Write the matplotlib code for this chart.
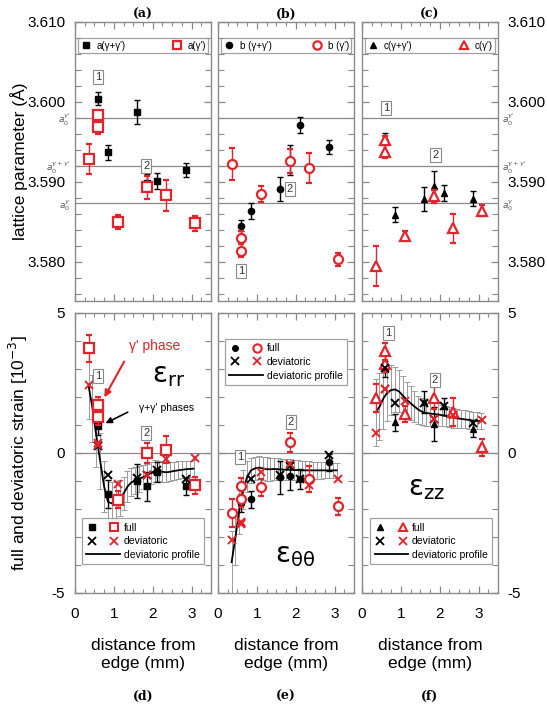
import matplotlib
matplotlib.use('Agg')
import matplotlib.pyplot as plt
from matplotlib.lines import Line2D
from matplotlib.legend_handler import HandlerTuple
from matplotlib.ticker import MultipleLocator, FormatStrFormatter

plt.rcParams['font.family'] = ['Liberation Sans', 'DejaVu Sans']
plt.rcParams['mathtext.fontset'] = 'dejavusans'
plt.rcParams['axes.unicode_minus'] = False

RED = '#e3242b'
GRAY = '#8a8a8a'

# measurement positions (mm from edge)
x_gp = [0.6, 0.85, 1.6, 1.85, 2.1, 2.85]          # gamma + gamma'
x_g = [0.35, 0.6, 0.6, 1.1, 1.85, 2.35, 3.1]      # gamma'

# lattice parameters (Angstrom)
a_gp = [3.6004, 3.5937, 3.5987, 3.5899, 3.5901, 3.5915]
a_gp_err = [0.0008, 0.0009, 0.0015, 0.0011, 0.0010, 0.0009]
a_g = [3.5929, 3.5984, 3.5969, 3.5850, 3.5893, 3.5883, 3.5848]
a_g_err = [0.0019, 0.0005, 0.0009, 0.0009, 0.0014, 0.0019, 0.0009]

b_gp = [3.5845, 3.5863, 3.5891, 3.5927, 3.5971, 3.5944]
b_gp_err = [0.0007, 0.0010, 0.0015, 0.0019, 0.0010, 0.0009]
b_g = [3.5922, 3.5830, 3.5814, 3.5885, 3.5926, 3.5917, 3.5803]
b_g_err = [0.0020, 0.0008, 0.0008, 0.0010, 0.0015, 0.0019, 0.0008]

c_gp = [3.5955, 3.5859, 3.5878, 3.5895, 3.5886, 3.5879]
c_gp_err = [0.0006, 0.0009, 0.0015, 0.0019, 0.0010, 0.0009]
c_g = [3.5795, 3.5952, 3.5938, 3.5832, 3.5882, 3.5842, 3.5864]
c_g_err = [0.0025, 0.0006, 0.0008, 0.0006, 0.0008, 0.0018, 0.0007]

# stress-free reference lattice parameters
a0_vals = [3.5980, 3.5920, 3.5874]
a0_labels = [r"$a_0^{\gamma'}$", r"$a_0^{\gamma+\gamma'}$", r"$a_0^{\gamma}$"]

# strains [1e-3]
rr_full_gp = [0.95, -1.47, -0.99, -1.19, -0.67, -1.19]
rr_full_gp_err = [0.3, 0.5, 0.6, 0.52, 0.35, 0.3]
rr_dev_gp = [0.24, -0.78, -0.90, -0.80, -0.62, -0.93]
rr_full_g = [3.74, 1.70, 1.29, -1.67, 0.00, 0.12, -1.15]
rr_full_g_err = [0.49, 0.3, 0.3, 0.3, 0.35, 0.47, 0.3]
rr_dev_g = [2.44, 0.36, 0.30, -1.11, -0.79, -0.20, -0.19]

tt_full_gp = [-1.79, -1.65, -0.87, -0.81, -0.93, -0.33]
tt_full_gp_err = [0.3, 0.3, 0.6, 0.5, 0.35, 0.3]
tt_dev_gp = [-2.50, -0.93, -0.80, -0.45, -0.93, -0.07]
tt_full_g = [-2.15, -1.19, -1.63, -1.23, 0.38, -0.93, -1.91]
tt_full_g_err = [0.5, 0.3, 0.3, 0.3, 0.33, 0.45, 0.3]
tt_dev_g = [-3.10, -2.54, -2.45, -0.67, -0.39, -1.15, -0.93]

zz_full_gp = [3.00, 1.10, 1.82, 1.04, 1.67, 0.86]
zz_full_gp_err = [0.3, 0.3, 0.4, 0.6, 0.3, 0.3]
zz_dev_gp = [3.05, 1.77, 1.80, 1.20, 1.67, 1.07]
zz_full_g = [1.96, 3.63, 3.19, 1.39, 1.96, 1.48, 0.20]
zz_full_g_err = [0.5, 0.3, 0.3, 0.3, 0.4, 0.5, 0.3]
zz_dev_g = [0.72, 2.27, 2.30, 1.87, 1.21, 1.35, 1.18]

# deviatoric profiles
x_prof = [0.35, 0.45, 0.55, 0.65, 0.75, 0.85, 0.95, 1.05, 1.15, 1.25, 1.35, 1.45, 1.55, 1.65,
          1.75, 1.85, 1.95, 2.05, 2.15, 2.25, 2.35, 2.45, 2.55, 2.65, 2.75, 2.85, 2.95, 3.05]
rr_prof = [2.40, 1.60, 0.60, -0.30, -1.20, -1.75, -1.80, -1.70, -1.60, -1.45, -1.20, -1.05, -0.98, -0.92,
           -0.86, -0.80, -0.72, -0.64, -0.64, -0.67, -0.69, -0.67, -0.64, -0.62, -0.60, -0.58, -0.57, -0.56]
tt_prof = [-3.90, -3.00, -2.00, -1.30, -0.85, -0.62, -0.55, -0.52, -0.55, -0.58, -0.58, -0.57, -0.58, -0.59,
           -0.60, -0.60, -0.61, -0.61, -0.62, -0.62, -0.62, -0.62, -0.62, -0.62, -0.62, -0.62, -0.62, -0.62]
zz_prof = [1.45, 1.65, 1.95, 2.15, 2.25, 2.27, 2.20, 2.05, 1.90, 1.78, 1.66, 1.55, 1.47, 1.43,
           1.41, 1.39, 1.38, 1.35, 1.32, 1.29, 1.26, 1.24, 1.22, 1.20, 1.18, 1.16, 1.15, 1.14]
prof_err = [1.20, 1.20, 1.10, 1.00, 0.90, 0.80, 0.75, 0.70, 0.65, 0.60, 0.55, 0.50, 0.48, 0.46,
            0.44, 0.42, 0.40, 0.38, 0.37, 0.36, 0.35, 0.34, 0.33, 0.32, 0.31, 0.30, 0.30, 0.30]
tt_prof_err = [1.10, 1.00, 0.90, 0.70, 0.55, 0.45, 0.42, 0.42, 0.42, 0.42, 0.41, 0.40, 0.40, 0.39,
               0.38, 0.37, 0.36, 0.35, 0.34, 0.33, 0.32, 0.31, 0.30, 0.30, 0.29, 0.28, 0.28, 0.28]

W, H = 547, 708
fig = plt.figure(figsize=(W / 100, H / 100), dpi=100)

lefts = [75, 218, 362]
pw = 136


def frac_box(left, top, bottom):
    return [left / W, 1 - bottom / H, pw / W, (bottom - top) / H]


def style_axes(ax, col):
    for s in ax.spines.values():
        s.set_color(GRAY)
        s.set_linewidth(1.0)
    ax.set_xlim(0, 3.5)
    ax.xaxis.set_major_locator(MultipleLocator(1))
    ax.xaxis.set_minor_locator(MultipleLocator(0.25))
    ax.tick_params(which='both', direction='in', top=True, right=True, color=GRAY, labelsize=11)
    ax.tick_params(which='major', length=5, width=0.9)
    ax.tick_params(which='minor', length=3, width=0.8)
    ax.tick_params(axis='y', which='minor', length=4)
    ax.tick_params(axis='y', labelleft=(col == 0), labelright=(col == 2), pad=7)


def box_label(ax, x, y, s):
    ax.text(x, y, s, ha='center', va='center', fontsize=8, color='#333333', zorder=6,
            bbox=dict(boxstyle='square,pad=0.18', fc='white', ec=GRAY, lw=0.8))


# ---------------- top row: lattice parameters ----------------
top_sets = [(a_gp, a_gp_err, a_g, a_g_err, 's', 'a'),
            (b_gp, b_gp_err, b_g, b_g_err, 'o', 'b'),
            (c_gp, c_gp_err, c_g, c_g_err, '^', 'c')]
top_box_labels = [[(0.6, 3.6031, '1'), (1.83, 3.5920, '2')],
                  [(0.6, 3.5788, '1'), (1.85, 3.5891, '2')],
                  [(0.62, 3.5992, '1'), (1.89, 3.5934, '2')]]

for col, (ygp, egp, yg, eg, mk, letter) in enumerate(top_sets):
    ax = fig.add_axes(frac_box(lefts[col], 22, 301))
    style_axes(ax, col)
    ax.set_ylim(3.5751, 3.610)
    ax.yaxis.set_major_locator(MultipleLocator(0.010))
    ax.yaxis.set_minor_locator(MultipleLocator(0.002))
    ax.yaxis.set_major_formatter(FormatStrFormatter('%.3f'))
    ax.tick_params(axis='x', labelbottom=False)
    for v in a0_vals:
        ax.axhline(v, color=GRAY, lw=0.9, zorder=1)
    ms_k = 4.5 if mk != '^' else 5
    ax.errorbar(x_gp, ygp, yerr=egp, fmt=mk, color='k', ms=ms_k, capsize=2.5, elinewidth=1,
                capthick=1, zorder=3)
    ax.errorbar(x_g, yg, yerr=eg, fmt=mk, mfc='white', mec=RED, mew=1.6, ecolor=RED, ms=6.5,
                capsize=2.5, elinewidth=1, capthick=1, zorder=4)
    for bx, by, bs in top_box_labels[col]:
        box_label(ax, bx, by, bs)
    if letter == 'b':
        lab1, lab2 = "b (γ+γ')", "b (γ')"
    else:
        lab1, lab2 = letter + "(γ+γ')", letter + "(γ')"
    h1 = Line2D([], [], ls='none', marker=mk, color='k', ms=ms_k)
    h2 = Line2D([], [], ls='none', marker=mk, mfc='white', mec=RED, mew=1.6, ms=6)
    leg = ax.legend([h1, h2], [lab1, lab2], ncol=2, loc='lower left', mode='expand',
                    bbox_to_anchor=(0.02, 0.889, 0.96, 0.057), borderaxespad=0, fontsize=7,
                    frameon=True, fancybox=False, handlelength=1.2, handletextpad=0.5,
                    borderpad=0.25, columnspacing=0.8)
    leg.get_frame().set_edgecolor(GRAY)
    leg.get_frame().set_linewidth(0.9)
    ax.set_title('(' + letter + ')', fontsize=9, fontweight='bold', family='DejaVu Serif', pad=3)
    if col == 0:
        for v, lab in zip(a0_vals, a0_labels):
            ax.text(-0.03, v - 0.0003, lab, transform=ax.get_yaxis_transform(), ha='right',
                    va='center', fontsize=6.5, color='#555555')
    if col == 2:
        for v, lab in zip(a0_vals, a0_labels):
            ax.text(1.03, v - 0.0003, lab, transform=ax.get_yaxis_transform(), ha='left',
                    va='center', fontsize=6.5, color='#555555')

# ---------------- bottom row: strains ----------------
bot_sets = [(rr_full_gp, rr_full_gp_err, rr_dev_gp, rr_full_g, rr_full_g_err, rr_dev_g, rr_prof, prof_err, 's', 'd'),
            (tt_full_gp, tt_full_gp_err, tt_dev_gp, tt_full_g, tt_full_g_err, tt_dev_g, tt_prof, tt_prof_err, 'o', 'e'),
            (zz_full_gp, zz_full_gp_err, zz_dev_gp, zz_full_g, zz_full_g_err, zz_dev_g, zz_prof, prof_err, '^', 'f')]
bot_box_labels = [[(0.6, 2.76, '1'), (1.83, 0.71, '2')],
                  [(0.57, -0.15, '1'), (1.87, 1.12, '2')],
                  [(0.68, 4.3, '1'), (1.88, 2.6, '2')]]
eps_text = [(2.4, 2.75, r'$\mathrm{\varepsilon_{rr}}$'), (1.97, -3.68, r'$\mathrm{\varepsilon_{\theta\theta}}$'),
            (1.67, -1.3, r'$\mathrm{\varepsilon_{zz}}$')]
leg_pos = [('lower center', (0.5, 0.085)), ('upper center', (0.5, 0.925)), ('lower right', (0.995, 0.085))]

for col, (fgp, fgpe, dgp, fg, fge, dg, prof, perr, mk, letter) in enumerate(bot_sets):
    ax = fig.add_axes(frac_box(lefts[col], 313, 593))
    style_axes(ax, col)
    ax.set_ylim(-5, 5)
    ax.yaxis.set_major_locator(MultipleLocator(5))
    ax.yaxis.set_minor_locator(MultipleLocator(1))
    ax.tick_params(axis='x', pad=10)
    ax.axhline(0, color=GRAY, lw=0.9, zorder=1)
    ax.errorbar(x_prof, prof, yerr=perr, fmt='none', ecolor='#9a9a9a', elinewidth=0.7,
                capsize=2.2, capthick=0.7, zorder=1.5)
    ax.plot(x_prof, prof, color='k', lw=1.3, zorder=2)
    ms_k = 4.5 if mk != '^' else 5
    ax.errorbar(x_gp, fgp, yerr=fgpe, fmt=mk, color='k', ms=ms_k, capsize=2.5, elinewidth=1,
                capthick=1, zorder=3)
    ax.errorbar(x_g, fg, yerr=fge, fmt=mk, mfc='white', mec=RED, mew=1.6, ecolor=RED, ms=6.5,
                capsize=2.5, elinewidth=1, capthick=1, zorder=4)
    ax.plot(x_gp, dgp, ls='none', marker='x', color='k', ms=6, mew=1.4, zorder=5)
    ax.plot(x_g, dg, ls='none', marker='x', color=RED, ms=6, mew=1.4, zorder=5)
    for bx, by, bs in bot_box_labels[col]:
        box_label(ax, bx, by, bs)
    ex, ey, es = eps_text[col]
    ax.text(ex, ey, es, ha='center', va='center', fontsize=20)

    hf = (Line2D([], [], ls='none', marker=mk, color='k', ms=4),
          Line2D([], [], ls='none', marker=mk, mfc='white', mec=RED, mew=1.5, ms=6))
    hd = (Line2D([], [], ls='none', marker='x', color='k', ms=5.5, mew=1.3),
          Line2D([], [], ls='none', marker='x', color=RED, ms=5.5, mew=1.3))
    hp = Line2D([], [], color='k', lw=1.3)
    loc, anchor = leg_pos[col]
    leg = ax.legend([hf, hd, hp], ['full', 'deviatoric', 'deviatoric profile'], loc=loc,
                    bbox_to_anchor=anchor, fontsize=7.5, frameon=True, fancybox=False,
                    handler_map={tuple: HandlerTuple(ndivide=None, pad=1.2)}, handlelength=3.2,
                    handletextpad=0.4, borderpad=0.4, labelspacing=0.35)
    leg.get_frame().set_edgecolor(GRAY)
    leg.get_frame().set_linewidth(0.9)
    ax.set_xlabel('distance from\nedge (mm)', fontsize=12.5, labelpad=12, linespacing=1.3)
    ax.text(0.5, -0.345, '(' + letter + ')', transform=ax.transAxes, ha='center', va='top',
            fontsize=9, fontweight='bold', family='DejaVu Serif')

    if col == 0:
        ax.text(2.06, 3.82, "γ' phase", color=RED, fontsize=10, ha='center', va='center')
        ax.annotate('', xy=(0.72, 1.9), xytext=(1.3, 3.35),
                    arrowprops=dict(arrowstyle='-|>', color=RED, lw=1.5, mutation_scale=10))
        ax.text(2.35, 1.62, "γ+γ' phases", color='k', fontsize=7.5, ha='center', va='center')
        ax.annotate('', xy=(0.72, 1.02), xytext=(1.42, 1.5),
                    arrowprops=dict(arrowstyle='-|>', color='k', lw=1.2, mutation_scale=9))

fig.text(0.034, 1 - 161.5 / H, 'lattice parameter (Å)', rotation=90, ha='center', va='center',
         fontsize=12.5)
fig.text(0.034, 1 - 453 / H, 'full and deviatoric strain [10$^{-3}$]', rotation=90, ha='center',
         va='center', fontsize=12.5)

fig.savefig('out.png', dpi=100)
